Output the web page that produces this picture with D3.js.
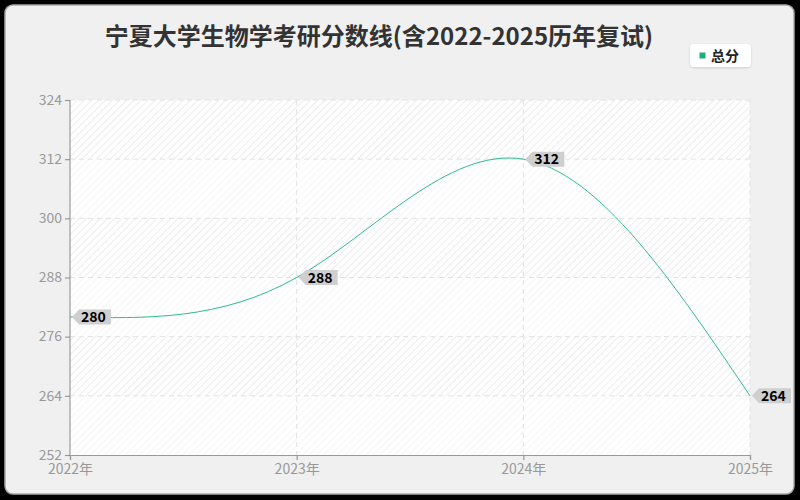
<!DOCTYPE html>
<html><head><meta charset="utf-8">
<script src="https://cdn.jsdelivr.net/npm/d3@7"></script>
<style>html,body{margin:0;padding:0;background:#000;}svg{display:block;}</style>
</head><body>
<svg id="c" width="800" height="500"></svg>
<script>
const title = "宁夏大学生物学考研分数线(含2022-2025历年复试)";
const years = ["2022年", "2023年", "2024年", "2025年"];
const totals = [280, 288, 312, 264];
const seriesName = "总分";
const yTicks = [252, 264, 276, 288, 300, 312, 324];

const svg = d3.select("#c");
const font = "'Noto Sans CJK SC','Noto Sans',sans-serif";
const margin = {left: 70, right: 50, top: 100, bottom: 45};
const W = 800, H = 500;

const defs = svg.append("defs");
const pat = defs.append("pattern").attr("id", "hatch").attr("patternUnits", "userSpaceOnUse")
  .attr("width", 5).attr("height", 5).attr("patternTransform", "rotate(45)");
pat.append("rect").attr("width", 5).attr("height", 5).attr("fill", "#ffffff");
pat.append("line").attr("x1", 0).attr("y1", 0).attr("x2", 0).attr("y2", 5)
  .attr("stroke", "#e6e6e6").attr("stroke-width", 1.5);
const f = defs.append("filter").attr("id", "sh").attr("x", "-20%").attr("y", "-20%").attr("width", "140%").attr("height", "150%");
f.append("feDropShadow").attr("dx", 0).attr("dy", 1).attr("stdDeviation", 1.2).attr("flood-color", "#000").attr("flood-opacity", 0.15);

svg.append("rect").attr("width", W).attr("height", H).attr("fill", "#000");
svg.append("rect").attr("x", 5).attr("y", 5).attr("width", 789).attr("height", 489)
  .attr("rx", 8).attr("fill", "#f0f0f0").attr("stroke", "#a8a8a8").attr("stroke-width", 1.5);

const x = d3.scalePoint().domain(years).range([margin.left, W - margin.right]);
const y = d3.scaleLinear().domain([252, 324]).range([H - margin.bottom, margin.top]);

// plot area with hatch
svg.append("rect").attr("x", margin.left).attr("y", margin.top)
  .attr("width", W - margin.right - margin.left).attr("height", H - margin.bottom - margin.top)
  .attr("fill", "url(#hatch)");
// alternating bands
for (let i = 0; i < yTicks.length - 1; i++) {
  const y0 = y(yTicks[i + 1]), y1 = y(yTicks[i]);
  svg.append("rect").attr("x", margin.left).attr("y", y0)
    .attr("width", W - margin.right - margin.left).attr("height", y1 - y0)
    .attr("fill", "#ffffff").attr("opacity", (i % 2 === 0) ? 0.5 : 0.0);
}

// grid lines
svg.append("g").selectAll("line").data(yTicks.slice(1))
  .join("line").attr("x1", margin.left).attr("x2", W - margin.right)
  .attr("y1", d => y(d)).attr("y2", d => y(d))
  .attr("stroke", "#e2e2e2").attr("stroke-dasharray", "5,4").attr("stroke-width", 1);
svg.append("g").selectAll("line").data(years.slice(1))
  .join("line").attr("x1", d => x(d)).attr("x2", d => x(d))
  .attr("y1", margin.top).attr("y2", H - margin.bottom)
  .attr("stroke", "#e2e2e2").attr("stroke-dasharray", "5,4").attr("stroke-width", 1);

// axes
const yAxis = d3.axisLeft(y).tickValues(yTicks).tickSize(5).tickPadding(3);
const gy = svg.append("g").attr("transform", `translate(${margin.left},0)`).call(yAxis);
const xAxis = d3.axisBottom(x).tickSize(5).tickPadding(4);
const gx = svg.append("g").attr("transform", `translate(0,${H - margin.bottom})`).call(xAxis);
[gx, gy].forEach(g => {
  g.selectAll("path,line").attr("stroke", "#999").attr("stroke-width", 1.2);
  g.selectAll("text").attr("fill", "#999").style("font-family", font).style("font-size", "14px");
});
gy.select(".domain").attr("d", `M0,${margin.top}V${H - margin.bottom}`);
gy.selectAll("text").attr("dy", "0.3em");

// smooth line (natural cubic spline)
const line = d3.line().x((d, i) => x(years[i])).y(d => y(d)).curve(d3.curveNatural);
svg.append("path").datum(totals).attr("d", line).attr("fill", "none")
  .attr("stroke", "#2ebd8c").attr("stroke-width", 1);

// labels
const lab = svg.append("g").selectAll("g").data(totals).join("g")
  .attr("transform", (d, i) => `translate(${x(years[i])},${y(d)})`);
lab.append("path").attr("d", "M2,0L9,-7.5H41V7.5H9Z").attr("fill", "#cfcfcf");
lab.append("text").attr("x", 11).attr("y", 5).text(d => d)
  .attr("fill", "#000").style("font-family", font).style("font-size", "14px").style("font-weight", "bold");

// title
svg.append("text").attr("x", 379).attr("y", 45).attr("text-anchor", "middle")
  .attr("fill", "#333").style("font-family", font).style("font-size", "24px").style("font-weight", "bold")
  .text(title);

// legend
const lg = svg.append("g");
lg.append("rect").attr("x", 690).attr("y", 44).attr("width", 61).attr("height", 23).attr("rx", 4)
  .attr("fill", "#fff").attr("filter", "url(#sh)");
lg.append("rect").attr("x", 699.5).attr("y", 52.5).attr("width", 6).attr("height", 6).attr("fill", "#1aaf7a");
lg.append("text").attr("x", 711).attr("y", 61).text(seriesName)
  .attr("fill", "#222").style("font-family", font).style("font-size", "14px").style("font-weight", "bold");
</script>
</body></html>
